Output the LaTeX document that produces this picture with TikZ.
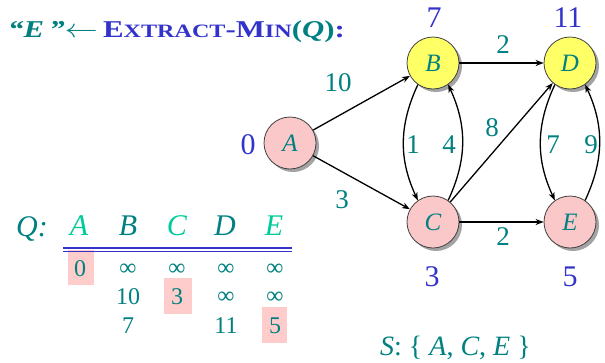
\documentclass[tikz,border=0pt]{standalone}
\usepackage{fontspec}
\setmainfont{Liberation Serif}
\usetikzlibrary{arrows.meta,shadows}
\definecolor{tealc}{RGB}{0,128,128}
\definecolor{lightg}{RGB}{0,204,153}
\definecolor{bluec}{RGB}{51,51,204}
\definecolor{pinkc}{RGB}{250,200,200}
\definecolor{yellc}{RGB}{255,255,102}
\definecolor{hilite}{RGB}{255,204,204}
\tikzset{
  vert/.style={circle, minimum size=52pt, inner sep=0pt, draw=black!75, line width=0.8pt,
    font=\fontsize{25}{25}\selectfont\itshape, text=tealc,
    drop shadow={shadow xshift=3pt, shadow yshift=-3pt, fill=black!45, opacity=0.8}},
  pinkv/.style={vert, fill=pinkc},
  yellv/.style={vert, fill=yellc},
  edge/.style={-{Stealth[length=8pt,width=6pt]}, line width=1.3pt, black},
  wlab/.style={font=\fontsize{27}{27}\selectfont, text=tealc, inner sep=0pt},
  dlab/.style={font=\fontsize{30}{30}\selectfont, text=bluec, inner sep=0pt},
  qhead/.style={font=\fontsize{30}{30}\selectfont\itshape, inner sep=0pt},
  qnum/.style={font=\fontsize{24}{24}\selectfont, text=tealc, inner sep=0pt},
  hbox/.style={fill=hilite, draw=none},
}
\begin{document}
\begin{tikzpicture}[x=1pt,y=-1pt]
\useasboundingbox (0,0) rectangle (605,362);

% heading
\node[anchor=base west, inner sep=0pt] (title) at (8,37)
  {\scalebox{1.34}[1.05]{\fontsize{23}{23}\selectfont\bfseries
   \textcolor{tealc}{\itshape “E\,”}\textcolor{tealc}{$\leftarrow$}\,%
   \textcolor{bluec}{E{\fontsize{18}{18}\selectfont XTRACT}-M{\fontsize{18}{18}\selectfont IN}}%
   \textcolor{tealc}{(\textit{Q})}\textcolor{bluec}{:}}};

% highlight boxes in the queue table
\path[hbox] (68,250) rectangle (94,285);
\path[hbox] (164,278) rectangle (192,314);
\path[hbox] (262,307) rectangle (287,343);

% queue header
\node[qhead, text=tealc] (qlab) at (32,229) {Q:};
\node[qhead, text=lightg] (qa) at (79,226) {A};
\node[qhead, text=tealc] (qb) at (128,226) {B};
\node[qhead, text=lightg] (qc) at (177,226) {C};
\node[qhead, text=tealc] (qd) at (225,226) {D};
\node[qhead, text=lightg] (qe) at (274,226) {E};
\draw[bluec, line width=1.2pt] (63,248) -- (292,248);
\draw[bluec, line width=0.8pt] (63,251.5) -- (292,251.5);

% queue keys
\node[qnum] (r1a) at (80,269) {0};
\node[qnum] (r1b) at (128,270) {∞};
\node[qnum] (r1c) at (177,270) {∞};
\node[qnum] (r1d) at (226,270) {∞};
\node[qnum] (r1e) at (275,270) {∞};
\node[qnum] (r2b) at (128,297) {10};
\node[qnum] (r2c) at (177,297) {3};
\node[qnum] (r2d) at (226,298) {∞};
\node[qnum] (r2e) at (275,298) {∞};
\node[qnum] (r3b) at (128,326) {7};
\node[qnum] (r3d) at (226,326) {11};
\node[qnum] (r3e) at (275,326) {5};

% graph vertices
\node[pinkv] (A) at (290,143) {A};
\node[yellv] (B) at (433,63) {B};
\node[yellv] (D) at (570,63) {D};
\node[pinkv] (C) at (433,222) {C};
\node[pinkv] (E) at (570,222) {E};

% edges
\draw[edge] (A) -- (B);
\draw[edge] (A) -- (C);
\draw[edge] (B) -- (D);
\draw[edge] (C) -- (E);
\draw[edge] (C) -- (D);
\draw[edge] (B.235) to[out=245,in=115] (C.125);
\draw[edge] (C.55) to[out=65,in=-65] (B.-55);
\draw[edge] (D.235) to[out=245,in=115] (E.125);
\draw[edge] (E.55) to[out=65,in=-65] (D.-55);

% edge weights
\node[wlab] (w10) at (338,83) {10};
\node[wlab] (w3) at (342,200) {3};
\node[wlab] (w2a) at (503,45) {2};
\node[wlab] (w1) at (413,145) {1};
\node[wlab] (w4) at (449,145) {4};
\node[wlab] (w8) at (492,128) {8};
\node[wlab] (w7) at (553,145) {7};
\node[wlab] (w9) at (591,145) {9};
\node[wlab] (w2b) at (503,237) {2};

% shortest-path estimates
\node[dlab] (dA) at (248,145) {0};
\node[dlab] (dB) at (434,18) {7};
\node[dlab] (dD) at (568,18) {11};
\node[dlab] (dC) at (432,277) {3};
\node[dlab] (dE) at (570,277) {5};

% settled set
\node[anchor=base west, inner sep=0pt, text=tealc] (sset) at (380,355)
  {\fontsize{28}{28}\selectfont\textit{S}: \{ \textit{A}, \textit{C}, \textit{E} \}};
\end{tikzpicture}
\end{document}
